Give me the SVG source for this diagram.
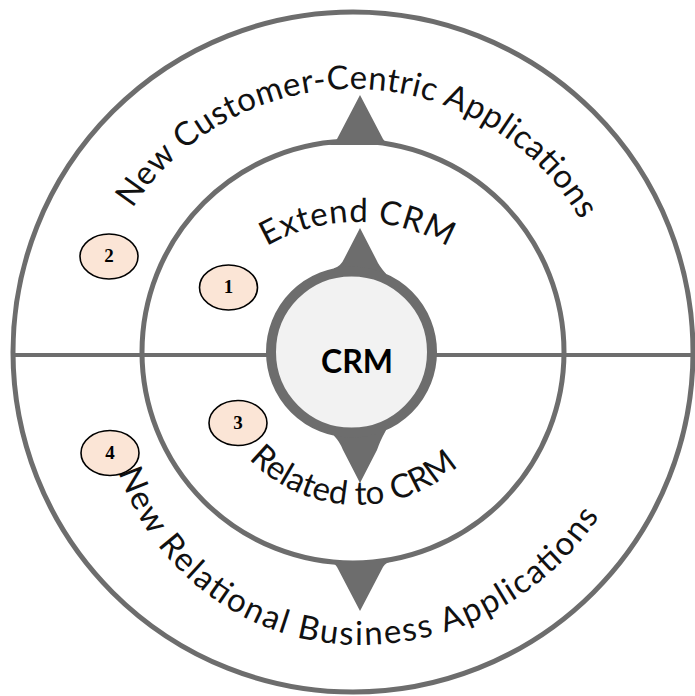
<svg xmlns="http://www.w3.org/2000/svg" width="695" height="696" viewBox="0 0 695 696">
<style>
.ring{fill:none;stroke:#6d6d6d;stroke-width:5}
.line{stroke:#6d6d6d;stroke-width:4}
.arrow{fill:#6d6d6d}
.lbl{font-family:Lato,"Open Sans","Liberation Sans",sans-serif;font-size:33px;fill:#111}
.badge ellipse{fill:#fbe5d6;stroke:#000;stroke-width:1.6}
.badge text{font-family:"Liberation Serif",serif;font-weight:bold;font-size:19px;text-anchor:middle;fill:#000}
</style>
<defs>
<path id="pTop" d="M125.2,220.5 A263,263 0 0,1 580.8,220.5"/>
<path id="pExt" d="M241.3,264.1 A180,180 0 0,1 472.7,264.1"/>
<path id="pRel" d="M242.1,451.4 A150,150 0 0,0 471.9,451.4"/>
<path id="pBot" d="M118,470 A254.8,254.8 0 0,0 360,645 A286.5,286.5 0 0,0 600,515"/>
</defs>
<rect width="695" height="696" fill="#fff"/>
<g id="outer-ring"><circle class="ring" cx="353" cy="352" r="340" fill="#fff"/></g>
<g id="middle-ring"><circle class="ring" cx="353" cy="352" r="211"/></g>
<g id="connectors">
<line class="line" x1="13" y1="355" x2="268" y2="355"/>
<line class="line" x1="434" y1="355" x2="693" y2="355"/>
<path class="arrow" d="M360,95 L383,139 Q386,144 393,145 L327,145 Q334,144 337,139 Z"/>
<path class="arrow" d="M360,611 L383,567 Q386,562 393,561 L327,561 Q334,562 337,567 Z"/>
<path class="arrow" d="M360,228 L376,259 Q379,266 386,273.8 L386,290 L334,290 L334,268.3 Q341,266 344,259 Z"/>
<path class="arrow" d="M360,483 L377,450 Q380,441 386,430.2 L386,415 L334,415 L334,435.7 Q340,442 343,450 Z"/>
</g>
<g id="crm">
<circle cx="351.5" cy="352" r="80.5" fill="#f2f2f2" stroke="#6d6d6d" stroke-width="10"/>
<text x="357" y="373" font-family="Lato,'Open Sans','Liberation Sans',sans-serif" font-weight="bold" font-size="32" text-anchor="middle" fill="#000">CRM</text>
</g>
<g id="label-top"><text class="lbl"><textPath href="#pTop" startOffset="14" textLength="536" lengthAdjust="spacing">New Customer-Centric Applications</textPath></text></g>
<g id="label-extend"><text class="lbl" font-size="32"><textPath href="#pExt" startOffset="31" textLength="190" lengthAdjust="spacing">Extend CRM</textPath></text></g>
<g id="label-related"><text class="lbl" font-size="31"><textPath href="#pRel" startOffset="10" textLength="232" lengthAdjust="spacing">Related to CRM</textPath></text></g>
<g id="label-bottom"><text class="lbl"><textPath href="#pBot" startOffset="2" textLength="600" lengthAdjust="spacing">New Relational Business Applications</textPath></text></g>
<g id="badge1" class="badge"><ellipse cx="228.5" cy="287.5" rx="29" ry="22.5"/><text x="228.5" y="293">1</text></g>
<g id="badge2" class="badge"><ellipse cx="109" cy="256.5" rx="29" ry="22.5"/><text x="109" y="262">2</text></g>
<g id="badge3" class="badge"><ellipse cx="238" cy="423" rx="29" ry="22.5"/><text x="238" y="428.5">3</text></g>
<g id="badge4" class="badge"><ellipse cx="110" cy="453" rx="29" ry="22.5"/><text x="110" y="458.5">4</text></g>
</svg>
